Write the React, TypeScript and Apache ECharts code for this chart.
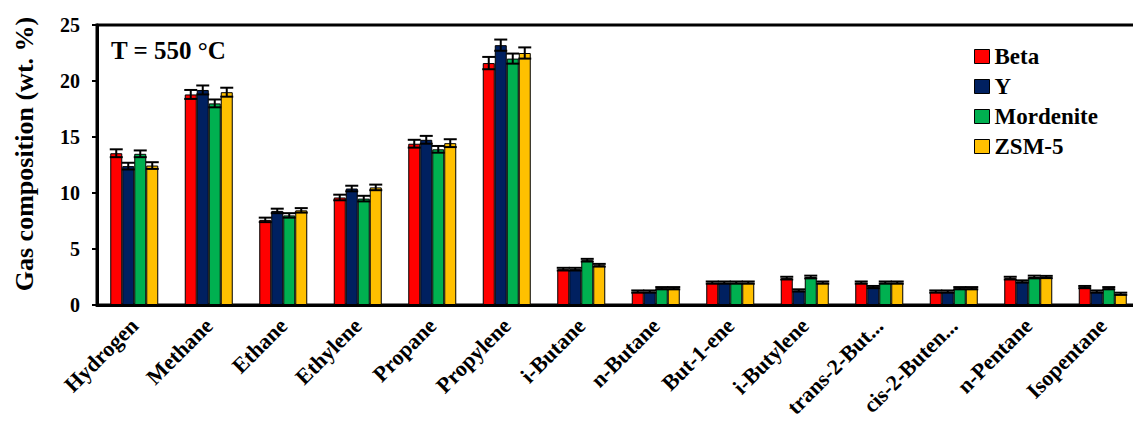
import React, { useEffect, useRef } from "react";
import * as echarts from "echarts";

// Gas species along the x axis
const categories = [
  "Hydrogen",
  "Methane",
  "Ethane",
  "Ethylene",
  "Propane",
  "Propylene",
  "i-Butane",
  "n-Butane",
  "But-1-ene",
  "i-Butylene",
  "trans-2-But...",
  "cis-2-Buten...",
  "n-Pentane",
  "Isopentane",
];

// Catalysts
const seriesNames = ["Beta", "Y", "Mordenite", "ZSM-5"];
const seriesColors = ["#FF0000", "#002060", "#00B050", "#FFC000"];

// Gas composition (wt. %) per catalyst
const betaValues = [13.55, 18.8, 7.6, 9.6, 14.4, 21.6, 3.2, 1.2, 2.0, 2.4, 2.0, 1.2, 2.4, 1.6];
const yValues = [12.4, 19.2, 8.4, 10.4, 14.75, 23.2, 3.2, 1.2, 2.0, 1.3, 1.6, 1.2, 2.1, 1.2];
const mordeniteValues = [13.5, 18.0, 8.0, 9.5, 13.9, 22.0, 4.0, 1.5, 2.0, 2.5, 2.0, 1.5, 2.5, 1.5];
const zsm5Values = [12.45, 19.0, 8.45, 10.5, 14.45, 22.5, 3.55, 1.5, 2.0, 2.0, 2.0, 1.5, 2.5, 1.0];

// Standard deviations (wt. %)
const betaErrors = [0.35, 0.4, 0.2, 0.25, 0.35, 0.55, 0.12, 0.1, 0.1, 0.12, 0.1, 0.1, 0.12, 0.1];
const yErrors = [0.3, 0.4, 0.2, 0.25, 0.35, 0.5, 0.12, 0.1, 0.1, 0.1, 0.1, 0.1, 0.1, 0.1];
const mordeniteErrors = [0.3, 0.35, 0.2, 0.25, 0.3, 0.45, 0.12, 0.1, 0.1, 0.12, 0.1, 0.1, 0.12, 0.1];
const zsm5Errors = [0.3, 0.4, 0.2, 0.25, 0.35, 0.5, 0.12, 0.1, 0.1, 0.1, 0.1, 0.1, 0.1, 0.1];

// y axis ticks
const yMin = 0;
const yMax = 25;
const yInterval = 5;

const FONT = "'Times New Roman', 'Liberation Serif', serif";
const BAR_WIDTH = 12;

export default function App() {
  const ref = useRef<HTMLDivElement>(null);

  useEffect(() => {
    if (!ref.current) return;
    const chart = echarts.init(ref.current, undefined, { renderer: "svg" });

    const valueSets = [betaValues, yValues, mordeniteValues, zsm5Values];
    const errorSets = [betaErrors, yErrors, mordeniteErrors, zsm5Errors];

    const barSeries = seriesNames.map((name, s) => ({
      name,
      type: "bar",
      data: valueSets[s],
      barWidth: BAR_WIDTH,
      barGap: "0%",
      itemStyle: { color: seriesColors[s], borderColor: "#000", borderWidth: 1 },
      z: 2,
    }));

    const errorSeries = seriesNames.map((name, s) => ({
      name: name + " error",
      type: "custom",
      data: valueSets[s].map((v, i) => [i, v, errorSets[s][i]]),
      encode: { x: 0, y: 1 },
      z: 5,
      silent: true,
      renderItem: (_params: any, api: any) => {
        const idx = api.value(0);
        const val = api.value(1);
        const err = api.value(2);
        const offset = (s - 1.5) * BAR_WIDTH;
        const top = api.coord([idx, val + err]);
        const bottom = api.coord([idx, val - err]);
        const x = top[0] + offset;
        const half = 6.5;
        const style = { stroke: "#000", lineWidth: 2 };
        return {
          type: "group",
          children: [
            { type: "line", shape: { x1: x, y1: top[1], x2: x, y2: bottom[1] }, style },
            { type: "line", shape: { x1: x - half, y1: top[1], x2: x + half, y2: top[1] }, style },
            { type: "line", shape: { x1: x - half, y1: bottom[1], x2: x + half, y2: bottom[1] }, style },
          ],
        };
      },
    }));

    chart.setOption({
      animation: false,
      backgroundColor: "#fff",
      grid: {
        left: 97,
        right: -7,
        top: 25,
        bottom: 116,
        show: true,
        borderColor: "#000",
        borderWidth: 3,
        containLabel: false,
        outerBoundsMode: "none",
      },
      legend: {
        data: seriesNames,
        orient: "vertical",
        left: 969,
        top: 40,
        itemWidth: 15,
        itemHeight: 14,
        itemGap: 7,
        icon: "rect",
        itemStyle: { borderColor: "#000", borderWidth: 1 },
        textStyle: {
          fontFamily: FONT,
          fontWeight: "bold",
          fontSize: 23,
          lineHeight: 22,
          color: "#000",
        },
      },
      xAxis: {
        type: "category",
        data: categories,
        axisLine: { lineStyle: { color: "#000", width: 3 } },
        axisTick: { show: false },
        axisLabel: {
          interval: 0,
          rotate: 45,
          margin: 17,
          fontFamily: FONT,
          fontWeight: "bold",
          fontSize: 22,
          color: "#000",
        },
        splitLine: { show: false },
      },
      yAxis: {
        type: "value",
        min: yMin,
        max: yMax,
        interval: yInterval,
        axisLine: { show: true, lineStyle: { color: "#000", width: 3 } },
        axisTick: { show: true, length: 5, lineStyle: { color: "#000", width: 2 } },
        axisLabel: {
          margin: 17,
          fontFamily: FONT,
          fontWeight: "bold",
          fontSize: 20,
          color: "#000",
        },
        splitLine: { show: false },
      },
      graphic: [
        {
          type: "text",
          x: 24,
          y: 154,
          rotation: Math.PI / 2,
          style: {
            text: "Gas composition (wt. %)",
            fontFamily: FONT,
            fontWeight: "bold",
            fontSize: 26,
            fill: "#000",
            align: "center",
            verticalAlign: "middle",
          },
        },
        {
          type: "text",
          x: 111,
          y: 50,
          style: {
            text: "T = 550 °C",
            fontFamily: FONT,
            fontWeight: "bold",
            fontSize: 25,
            fill: "#000",
            align: "left",
            verticalAlign: "middle",
          },
        },
      ],
      series: [...barSeries, ...errorSeries],
    });

    return () => {
      chart.dispose();
    };
  }, []);

  return (
    <div
      ref={ref}
      style={{ position: "absolute", left: 0, top: 0, width: 1133, height: 421, overflow: "hidden" }}
    />
  );
}
